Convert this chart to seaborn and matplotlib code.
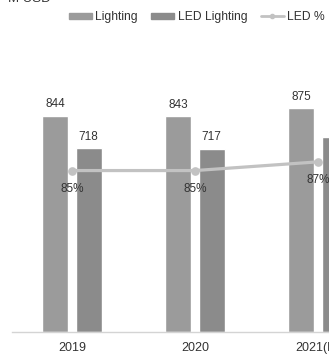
import pandas as pd
import seaborn as sns
import matplotlib.pyplot as plt

years = ["2019", "2020", "2021(E)"]
lighting = [844, 843, 875]
led_lighting = [718, 717, 761]
led_pct = [0.85, 0.85, 0.87]
pct_labels = ["85%", "85%", "87%"]

df = pd.DataFrame({
    "year": years * 2,
    "value": lighting + led_lighting,
    "kind": ["Lighting"] * 3 + ["LED Lighting"] * 3,
})

sns.set_theme(style="white")
plt.rcParams["font.family"] = ["Liberation Sans", "DejaVu Sans"]
txt = "#333333"

W, H = 329, 354
fig = plt.figure(figsize=(W / 100, H / 100), dpi=100)
ax = fig.add_axes([12 / W, 22 / H, (W - 12) / W, 292 / H])

pal = {"Lighting": "#9b9b9b", "LED Lighting": "#8b8b8b"}
sns.barplot(data=df, x="year", y="value", hue="kind", order=years,
            hue_order=["Lighting", "LED Lighting"], palette=pal,
            width=0.54, gap=0.22, saturation=1, ax=ax, legend=False)
for c in ax.containers:
    ax.bar_label(c, padding=4, fontsize=8.5, color=txt)

ax.set_ylim(0, 1141)
ax.set_xlabel("")
ax.set_ylabel("")
ax.set_yticks([])
ax.tick_params(axis="x", length=0, labelsize=9, colors=txt, pad=7)
for s in ["top", "left", "right"]:
    ax.spines[s].set_visible(False)
ax.spines["bottom"].set_color("#d4d4d4")
ax.spines["bottom"].set_linewidth(1)

ax2 = ax.twinx()
sns.pointplot(x=years, y=led_pct, ax=ax2, color="#c2c2c2",
              markers="o", markersize=4.5, linewidth=2.3)
ax2.set_ylim(0.479, 1.15)
ax2.set_yticks([])
ax2.set_ylabel("")
for s in ax2.spines.values():
    s.set_visible(False)
for i, lab in enumerate(pct_labels):
    ax2.annotate(lab, (i, led_pct[i]), xytext=(0, -13), textcoords="offset points",
                 ha="center", va="center", fontsize=8.5, color=txt)
ax.set_xlim(-0.488, 2.089)

handles = [
    plt.Rectangle((0, 0), 1, 1, color=pal["Lighting"]),
    plt.Rectangle((0, 0), 1, 1, color=pal["LED Lighting"]),
    plt.Line2D([], [], color="#c2c2c2", lw=2, marker="o", markersize=3),
]
fig.legend(handles, ["Lighting", "LED Lighting", "LED %"], loc="center left",
           bbox_to_anchor=(58 / W, 1 - 17 / H), ncol=3, frameon=False,
           fontsize=8.7, handlelength=1.9, handleheight=0.4, handletextpad=0.3,
           columnspacing=1.1, labelcolor=txt)

fig.text(8 / W, 1 - 2 / H, "M USD", fontsize=9.5, color=txt, va="baseline")

fig.savefig("out.png", dpi=100)
